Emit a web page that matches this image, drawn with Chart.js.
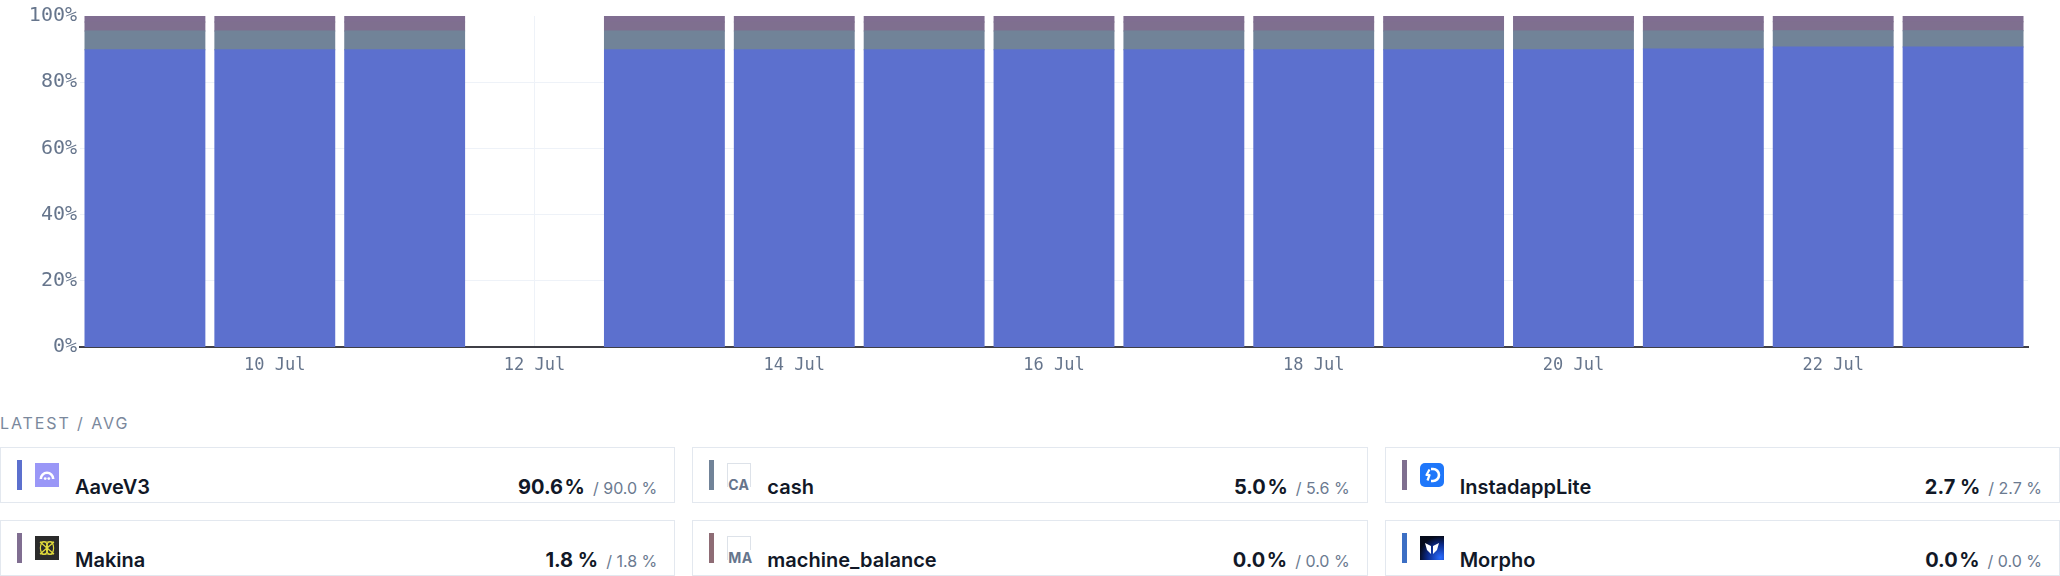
<!DOCTYPE html>
<html>
<head>
<meta charset="utf-8">
<script src="https://cdn.jsdelivr.net/npm/chart.js@4.4.0/dist/chart.umd.min.js"></script>
<style>
  html, body { margin: 0; padding: 0; background: #fff; }
  body { width: 2060px; height: 576px; overflow: hidden; font-family: Inter, "Noto Sans", sans-serif; }
  #chartBox { position: relative; width: 2060px; height: 392px; }
  .caption { position: absolute; left: 0; top: 413px; font-size: 16px; letter-spacing: 1.9px; color: #7a889c; }
  .cards { position: absolute; left: 0; top: 447px; width: 2060px; display: grid;
    grid-template-columns: repeat(3, 1fr); column-gap: 17px; row-gap: 17px; }
  .card { position: relative; height: 56px; box-sizing: border-box; border: 1px solid #e3e8ef; background: #fff; }
  .card .swatch { position: absolute; left: 16px; top: 12px; width: 5px; height: 30px; }
  .card .icon { position: absolute; left: 34px; top: 15px; width: 24px; height: 24px; box-sizing: border-box; }
  .card .icon svg { display: block; }
  .card .ph { border: 1px solid #dde2e9; border-bottom: none; }
  .card .ph span { position: absolute; left: 0px; bottom: -5px; font-size: 14px; font-weight: 700; color: #66758c; letter-spacing: 0.3px; background: #fff; line-height: 15px; }
  .card .name { position: absolute; left: 74px; top: 27px; font-size: 20px; line-height: 24px; font-weight: 600; color: #111827; }
  .card .vals { position: absolute; right: 17px; top: 27px; line-height: 24px; white-space: nowrap; }
  .card .latest { font-size: 20px; font-weight: 700; color: #111827; }
  .card .avg { font-size: 16px; color: #6b7a90; margin-left: 8px; }
</style>
</head>
<body>
<div id="chartBox"><canvas id="myChart"></canvas></div>
<div class="caption">LATEST / AVG</div>
<div class="cards" id="cards"></div>
<script>
// days on the x axis
const days = ["9 Jul", "10 Jul", "11 Jul", "12 Jul", "13 Jul", "14 Jul", "15 Jul", "16 Jul",
  "17 Jul", "18 Jul", "19 Jul", "20 Jul", "21 Jul", "22 Jul", "23 Jul"];

// share of allocation per day, in %
const aaveV3 = [89.8, 89.8, 89.8, null, 89.8, 89.8, 89.8, 89.8, 89.8, 89.8, 89.8, 89.8, 90.0, 90.6, 90.6];
const cash = [5.7, 5.7, 5.7, null, 5.7, 5.7, 5.7, 5.7, 5.7, 5.7, 5.7, 5.7, 5.5, 4.95, 4.95];
const instadappLite = [2.7, 2.7, 2.7, null, 2.7, 2.7, 2.7, 2.7, 2.7, 2.7, 2.7, 2.7, 2.7, 2.7, 2.7];
const makina = [1.8, 1.8, 1.8, null, 1.8, 1.8, 1.8, 1.8, 1.8, 1.8, 1.8, 1.8, 1.8, 1.75, 1.75];
const machineBalance = [0, 0, 0, null, 0, 0, 0, 0, 0, 0, 0, 0, 0, 0, 0];
const morpho = [0, 0, 0, null, 0, 0, 0, 0, 0, 0, 0, 0, 0, 0, 0];

const yTicks = [0, 20, 40, 60, 80, 100];

// legend cards
const names = ["AaveV3", "cash", "InstadappLite", "Makina", "machine_balance", "Morpho"];
const latest = ["90.6\u200a%", "5.0\u200a%", "2.7 %", "1.8 %", "0.0\u200a%", "0.0\u200a%"];
const avg = ["/ 90.0 %", "/ 5.6 %", "/ 2.7 %", "/ 1.8 %", "/ 0.0 %", "/ 0.0 %"];
const colors = ["#5c70ce", "#718398", "#7f6f8f", "#806e91", "#8e6c75", "#3c6fc4"];

const icons = {
  AaveV3: '<svg width="24" height="24"><rect width="24" height="24" fill="#9a97f7"/>' +
    '<path d="M5.8 16 A6.2 6.2 0 0 1 18.2 16" fill="none" stroke="#fff" stroke-width="2.6"/>' +
    '<circle cx="10.2" cy="15.6" r="1.4" fill="#fff"/><circle cx="13.8" cy="15.6" r="1.4" fill="#fff"/></svg>',
  InstadappLite: '<svg width="24" height="24"><rect width="24" height="24" rx="5" fill="#1f77fa"/>' +
    '<path d="M11 6 H13 A6 6 0 0 1 13 18 H11" fill="none" stroke="#fff" stroke-width="2.6"/>' +
    '<path d="M9.5 6.5 L6.5 12 H9.5 L7.5 17.5" fill="none" stroke="#fff" stroke-width="2.2" stroke-linejoin="round"/></svg>',
  Makina: '<svg width="24" height="24"><rect width="24" height="24" fill="#2b2b2b"/>' +
    '<g fill="none" stroke="#e2dc3c" stroke-width="1.2">' +
    '<ellipse cx="9" cy="12" rx="3.6" ry="6.5"/><ellipse cx="15" cy="12" rx="3.6" ry="6.5"/>' +
    '<path d="M5 6 L19 18 M19 6 L5 18 M5 6 H19 M5 18 H19"/></g></svg>',
  Morpho: '<svg width="24" height="24"><defs><radialGradient id="mg" cx="0.85" cy="0.9" r="0.9">' +
    '<stop offset="0" stop-color="#2a6cff"/><stop offset="0.6" stop-color="#0b2a8a"/><stop offset="1" stop-color="#050a1a"/></radialGradient></defs>' +
    '<rect width="24" height="24" fill="url(#mg)"/>' +
    '<path d="M5 7 L11 10 L11 18 L7 14 Z M19 7 L13 10 L13 18 L17 14 Z" fill="#fff"/></svg>'
};

const cardsEl = document.getElementById("cards");
names.forEach((n, i) => {
  let icon;
  if (icons[n]) {
    icon = '<div class="icon">' + icons[n] + '</div>';
  } else {
    icon = '<div class="icon ph"><span>' + n.slice(0, 2).toUpperCase() + '</span></div>';
  }
  cardsEl.insertAdjacentHTML("beforeend",
    '<div class="card"><div class="swatch" style="background:' + colors[i] + '"></div>' + icon +
    '<div class="name">' + n + '</div>' +
    '<div class="vals"><span class="latest">' + latest[i] + '</span><span class="avg">' + avg[i] + '</span></div></div>');
});

document.addEventListener("DOMContentLoaded", () => {
  const ctx = document.getElementById("myChart");
  const series = [aaveV3, cash, instadappLite, makina, machineBalance, morpho];

  new Chart(ctx, {
    type: "bar",
    data: {
      labels: days,
      datasets: series.map((s, i) => ({
        label: names[i],
        data: s,
        backgroundColor: colors[i],
        borderWidth: 0,
        // overlap neighbours a little so no light seams show between segments
        inflateAmount: i < 4 ? 0.5 : 0,
        barPercentage: 0.923,
        categoryPercentage: 1,
      })),
    },
    options: {
      responsive: true,
      maintainAspectRatio: false,
      animation: false,
      layout: { padding: { top: 16, right: 32, left: 0, bottom: 0 } },
      plugins: { legend: { display: false }, tooltip: { enabled: false } },
      scales: {
        x: {
          stacked: true,
          grid: { color: "#eef2f8", offset: false, drawTicks: false },
          border: { color: "#3f3f46", width: 2 },
          ticks: {
            autoSkip: false,
            maxRotation: 0,
            padding: 8,
            color: "#66758c",
            font: { family: "DejaVu Sans Mono", size: 17 },
            callback: (v, i) => (i % 2 === 1 ? days[i] : null),
          },
          afterFit: (s) => { s.height = 45; },
        },
        y: {
          stacked: true,
          min: 0,
          max: 100,
          grid: {
            color: (c) => (c.tick && c.tick.value === 100 ? "rgba(0,0,0,0)" : "#eef2f8"),
            drawTicks: false,
          },
          border: { display: false },
          afterBuildTicks: (s) => { s.ticks = yTicks.map((v) => ({ value: v })); },
          ticks: {
            padding: 3,
            color: "#66758c",
            font: { family: "DejaVu Sans Mono", size: 20 },
            callback: (v) => v + "%",
          },
          afterFit: (s) => { s.width = 80; },
        },
      },
    },
  });
});
</script>
</body>
</html>
